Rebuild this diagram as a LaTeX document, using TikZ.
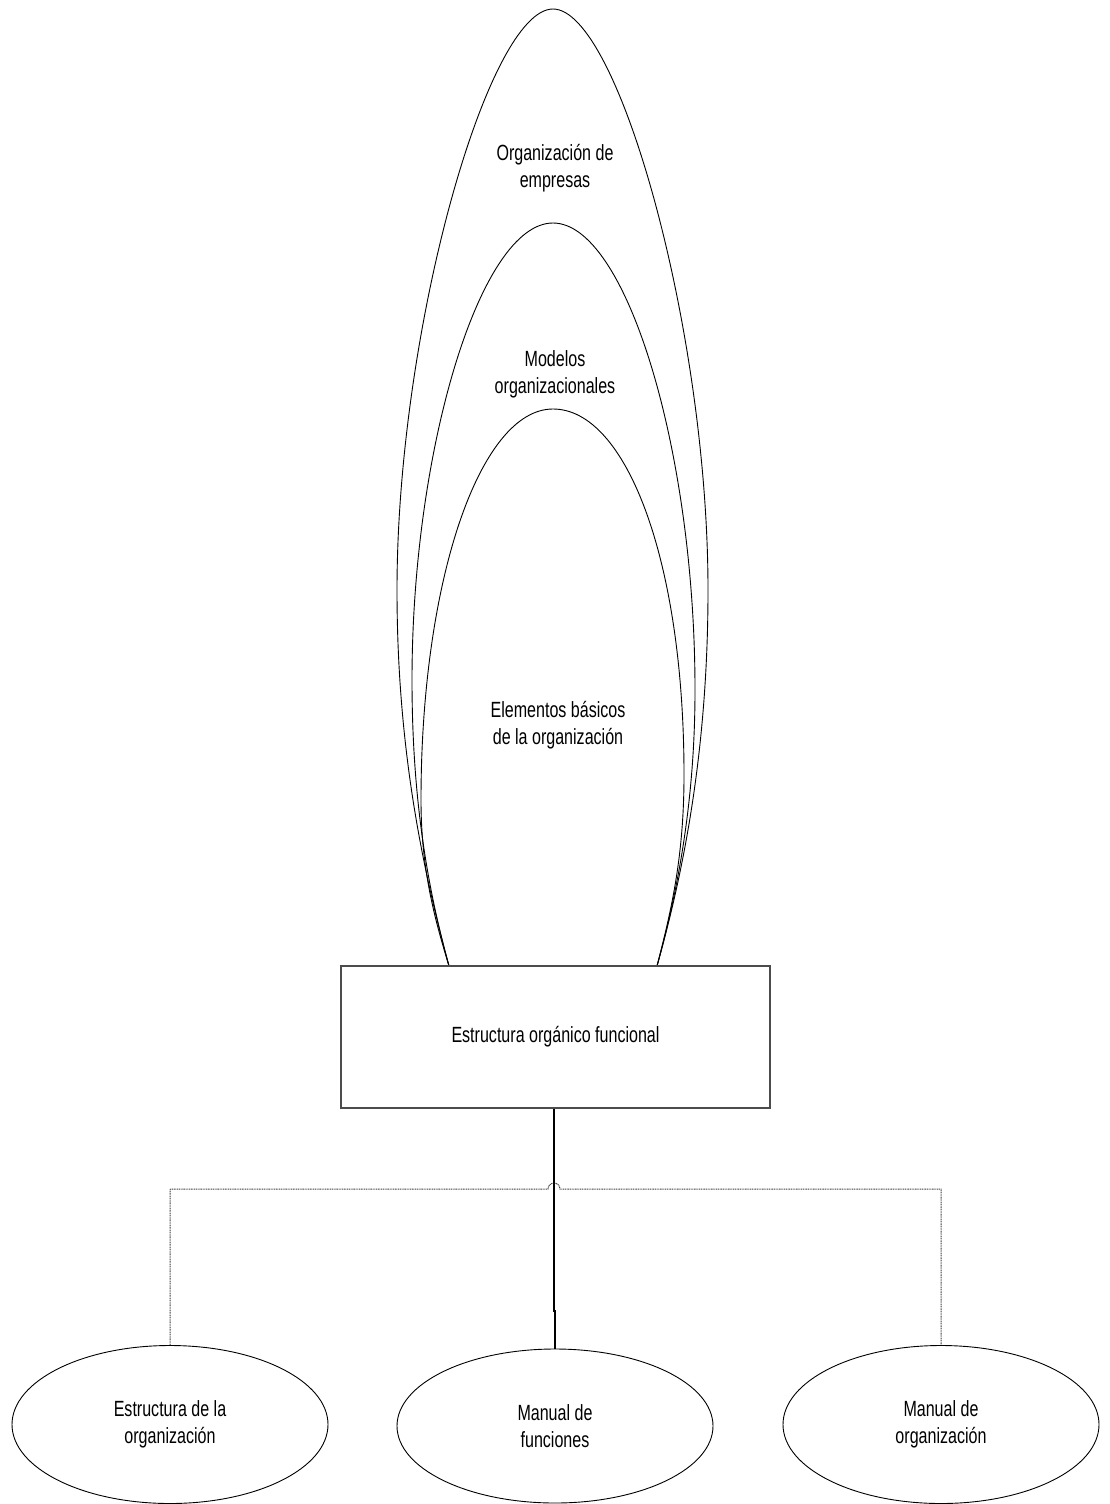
\documentclass[tikz,border=0pt]{standalone}
\usepackage{fontspec}
\setmainfont{Liberation Sans}[FakeStretch=0.73]
\usetikzlibrary{shapes.geometric}
\tikzset{
  curve/.style={draw=black, line width=0.9pt},
  txt/.style={font=\fontsize{22}{27}\selectfont},
  lbl/.style={txt, align=center, inner sep=0pt},
  oval/.style={txt, draw=black, line width=0.9pt, ellipse, minimum width=316, minimum height=158, inner sep=0pt, align=center},
  box/.style={txt, draw=black!70, line width=1.3pt, fill=white, rectangle, minimum width=429, minimum height=142, inner sep=0pt},
  tree/.style={draw=black!75, line width=1pt, dash pattern=on 1pt off 0.7pt},
  trunk/.style={draw=black, line width=2.4pt}
}
\begin{document}
\begin{tikzpicture}[x=1pt, y=-1pt]
\useasboundingbox (0,0) rectangle (1109,1504);

% nested arcs
\draw[curve] (449,966) .. controls (427,884) and (397,760) .. (397,590)
  .. controls (397,330) and (488,9) .. (553,9)
  .. controls (618,9) and (708,330) .. (708,590)
  .. controls (708,760) and (680,884) .. (657,966);
\draw[curve] (449,966) .. controls (428,890) and (412,800) .. (412,680)
  .. controls (412,450) and (480,223) .. (553,223)
  .. controls (626,223) and (695,450) .. (695,690)
  .. controls (695,800) and (678,890) .. (657,966);
\draw[curve] (449,966) .. controls (435,920) and (421,870) .. (421,800)
  .. controls (421,580) and (480,409) .. (553,409)
  .. controls (626,409) and (684,560) .. (684,775)
  .. controls (684,860) and (670,915) .. (657,966);

\node[lbl] (org) at (555,168) {Organización de\\empresas};
\node[lbl] (mod) at (555,374) {Modelos\\organizacionales};
\node[lbl] (ele) at (558,725) {Elementos básicos\\de la organización};

% central box
\node[box] (efo) at (555.5,1037) {Estructura orgánico funcional};

% bottom ovals
\node[oval] (e1) at (170,1424.5) {Estructura de la\\organización};
\node[oval, minimum height=154] (e2) at (555,1426) {Manual de\\funciones};
\node[oval] (e3) at (941,1424.5) {Manual de\\organización};

% tree connector with line jump
\coordinate (hopL) at (548,1189);
\draw[tree] (e1.north) |- (hopL) arc[start angle=180, end angle=360, radius=6] -| (e3.north);

% trunk
\coordinate (jog) at (554,1311);
\draw[trunk] (efo.south -| jog) -- (jog) -- ++(1,0) -- (e2.north);
\end{tikzpicture}
\end{document}
